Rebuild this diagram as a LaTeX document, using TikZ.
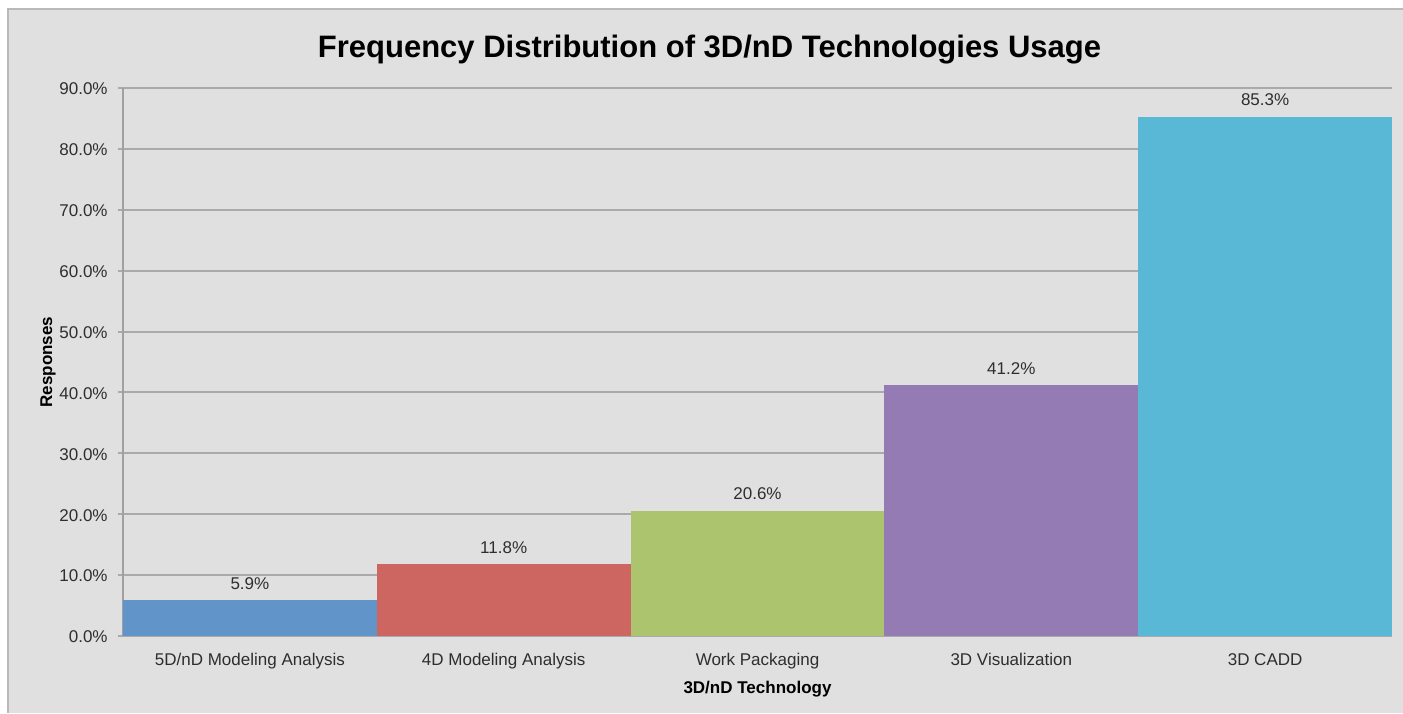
\documentclass[tikz,border=0pt]{standalone}
\usepackage{fontspec}
\setmainfont{Liberation Sans}
\definecolor{panel}{HTML}{E1E0E0}
\definecolor{framec}{HTML}{B9B9B9}
\definecolor{gridc}{HTML}{A9A9AE}
\definecolor{axisc}{HTML}{A0A0A0}
\definecolor{txt}{HTML}{2E2E2E}
\definecolor{barA}{HTML}{6195C9}
\definecolor{barB}{HTML}{CD6560}
\definecolor{barC}{HTML}{ABC46D}
\definecolor{barD}{HTML}{957BB3}
\definecolor{barE}{HTML}{58B8D5}
\tikzset{
  gridline/.style={draw=gridc, line width=1pt},
  ticklbl/.style={font=\fontsize{8.5}{10}\selectfont, text=txt, inner sep=0pt, anchor=east},
  catlbl/.style={font=\fontsize{8.5}{10}\selectfont, text=txt, inner sep=0pt, anchor=base},
  vallbl/.style={font=\fontsize{8.5}{10}\selectfont, text=txt, inner sep=0pt, anchor=base},
  axtitle/.style={font=\bfseries\fontsize{8.5}{10}\selectfont, text=black, inner sep=0pt, anchor=base},
  charttitle/.style={font=\bfseries\fontsize{15.5}{18}\selectfont, text=black, inner sep=0pt, anchor=base}
}
\begin{document}
\begin{tikzpicture}[x=0.5pt, y=-0.5pt]
\useasboundingbox (0,0) rectangle (1403,713);
\fill[white] (0,0) rectangle (1403,713);
% chart panel
\fill[panel] (8,9) rectangle (1403,713);
\draw[framec, line width=1pt] (8,713) -- (8,9) -- (1403,9);
% horizontal gridlines and tick labels
\foreach \k/\lbl in {0/0.0,1/10.0,2/20.0,3/30.0,4/40.0,5/50.0,6/60.0,7/70.0,8/80.0,9/90.0} {
  \draw[gridline] (118,636-60.9*\k) -- (1392,636-60.9*\k);
  \node[ticklbl] (tick\k) at (108,637-60.9*\k) {\lbl\%};
}
% value axis
\draw[axisc, line width=1pt] (123,88) -- (123,636);
% bars, value labels and category labels
\foreach \i/\v/\c/\n in {0/5.9/barA/{5D/nD Modeling Analysis},1/11.8/barB/{4D Modeling Analysis},2/20.6/barC/{Work Packaging},3/41.2/barD/{3D Visualization},4/85.3/barE/{3D CADD}} {
  \fill[\c] (123+253.8*\i,636) rectangle (123+253.8*\i+253.8,636-6.09*\v);
  \node[vallbl] (val\i) at (123+253.8*\i+126.9,636-6.09*\v-11) {\v\%};
  \node[catlbl] (cat\i) at (123+253.8*\i+126.9,665) {\n};
}
% titles
\node[charttitle] (title) at (709.5,57) {Frequency Distribution of 3D/nD Technologies Usage};
\node[axtitle] (xtitle) at (757.5,693) {3D/nD Technology};
\node[axtitle, rotate=90] (ytitle) at (52,362) {Responses};
\end{tikzpicture}
\end{document}
